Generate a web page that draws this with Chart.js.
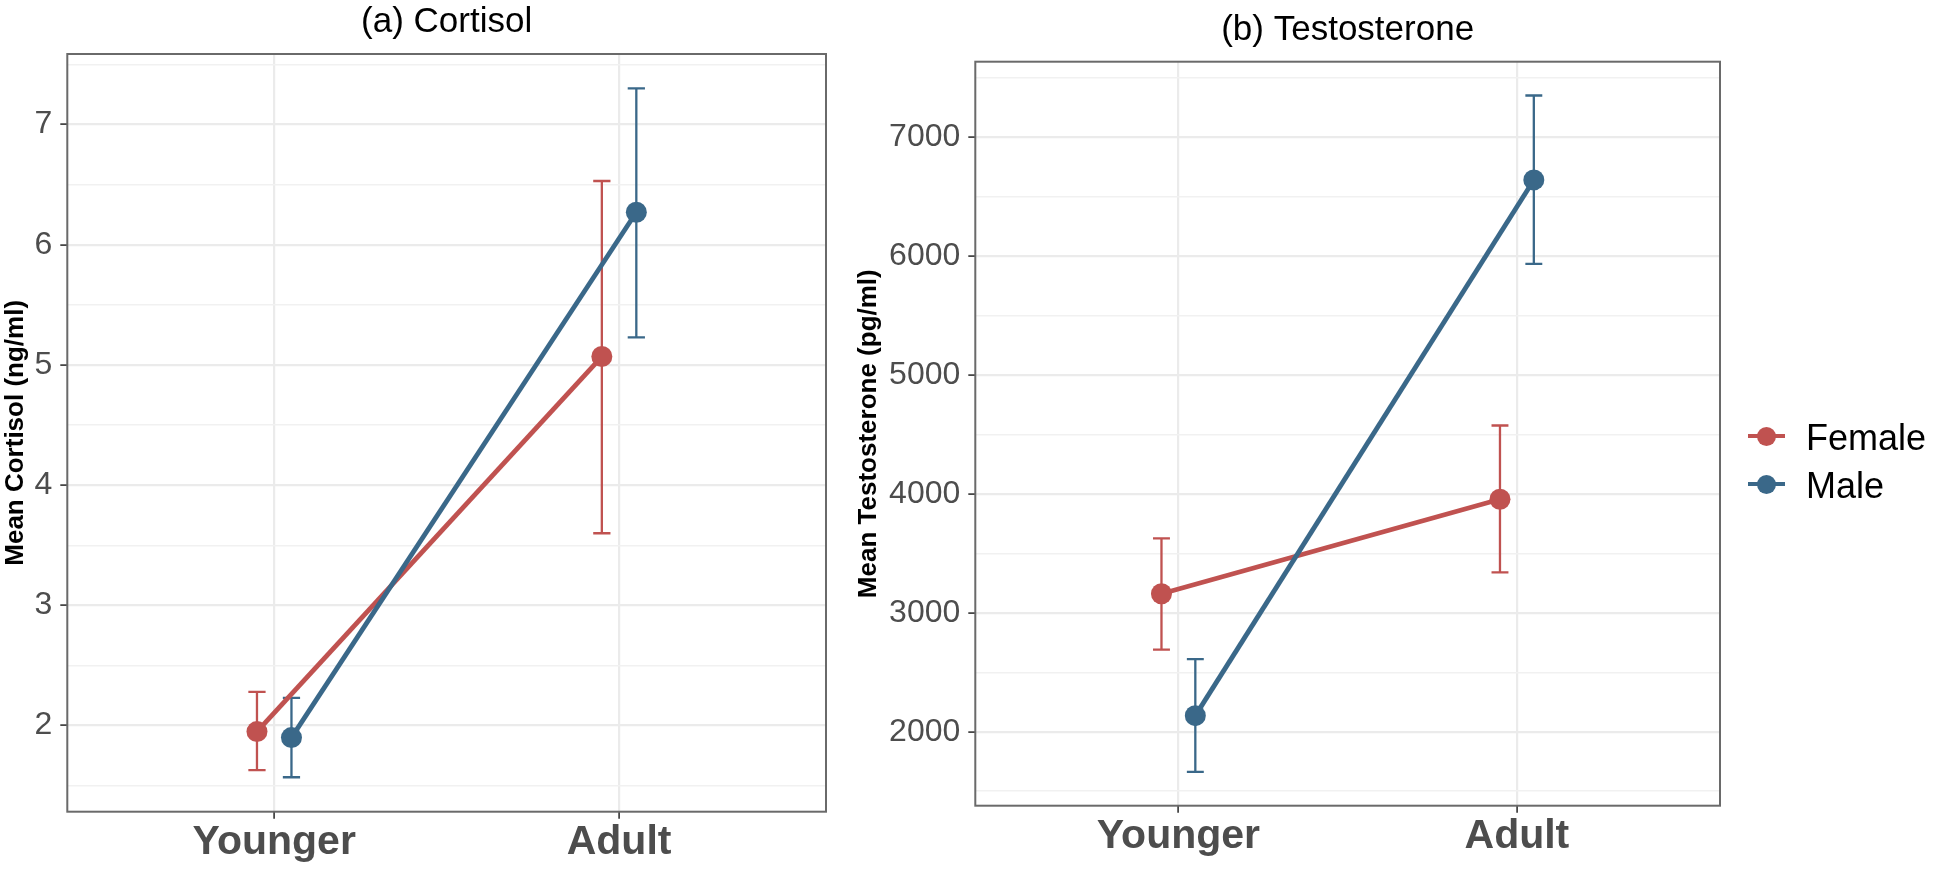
<!DOCTYPE html>
<html><head><meta charset="utf-8">
<script src="https://cdn.jsdelivr.net/npm/chart.js@4.4.1/dist/chart.umd.min.js"></script>
<style>
html,body{margin:0;padding:0;background:#fff;width:1934px;height:876px;overflow:hidden;}
#wa{position:absolute;left:0;top:0;width:840px;height:876px;}
#wb{position:absolute;left:840px;top:0;width:1094px;height:876px;}
.legtxt{position:absolute;font-family:'Liberation Sans',Arial,Helvetica,sans-serif;font-size:36px;line-height:36px;color:#000;white-space:nowrap;}
.legline{position:absolute;width:37px;height:4.5px;}
.legdot{position:absolute;width:19px;height:19px;border-radius:50%;}
</style></head><body>
<div id="wa"><canvas id="ca" width="840" height="876"></canvas></div>
<div id="wb"><canvas id="cb" width="1094" height="876"></canvas></div>
<div id="legend"></div>
<script>
// ---------- data ----------
const categories = ['Younger', 'Adult'];
const seriesNames = ['Female', 'Male'];
const panelTitles = ['(a) Cortisol', '(b) Testosterone'];
const yTitles = ['Mean Cortisol (ng/ml)', 'Mean Testosterone (pg/ml)'];

const cortisolFemale     = [1.95, 5.07];
const cortisolFemaleLow  = [1.63, 3.60];
const cortisolFemaleHigh = [2.28, 6.53];
const cortisolMale       = [1.90, 6.27];
const cortisolMaleLow    = [1.57, 5.23];
const cortisolMaleHigh   = [2.23, 7.30];

const testoFemale     = [3160, 3955];
const testoFemaleLow  = [2690, 3340];
const testoFemaleHigh = [3625, 4575];
const testoMale       = [2135, 6640];
const testoMaleLow    = [1662, 5935];
const testoMaleHigh   = [2610, 7350];

const cortisolTicks = [2, 3, 4, 5, 6, 7];
const cortisolMinorTicks = [1.5, 2.5, 3.5, 4.5, 5.5, 6.5, 7.5];
const testoTicks = [2000, 3000, 4000, 5000, 6000, 7000];
const testoMinorTicks = [1500, 2500, 3500, 4500, 5500, 6500, 7500];

// ---------- style ----------
const FONT = "'Liberation Sans', Arial, Helvetica, sans-serif";
const colors = ['#C05250', '#3A6889'];
const dodge = 0.05;
const capHalf = 0.025;

function rangeOf(lows, highs) {
  const all = lows.flat().concat(highs.flat());
  const mn = Math.min(...all), mx = Math.max(...all);
  const pad = (mx - mn) * 0.05;
  return [mn - pad, mx + pad];
}

const panelPlugin = {
  id: 'panelExtras',
  beforeDatasetsDraw(chart) {
    const {ctx, scales: {x, y}} = chart;
    chart.data.datasets.forEach((ds) => {
      ds.errLow.forEach((lo, j) => {
        const hi = ds.errHigh[j];
        const xv = ds.data[j].x;
        const px = x.getPixelForValue(xv);
        const pl = x.getPixelForValue(xv - capHalf);
        const pr = x.getPixelForValue(xv + capHalf);
        const yl = y.getPixelForValue(lo), yh = y.getPixelForValue(hi);
        ctx.save();
        ctx.strokeStyle = ds.borderColor;
        ctx.lineWidth = 2.3;
        ctx.beginPath();
        ctx.moveTo(px, yl); ctx.lineTo(px, yh);
        ctx.moveTo(pl, yl); ctx.lineTo(pr, yl);
        ctx.moveTo(pl, yh); ctx.lineTo(pr, yh);
        ctx.stroke();
        ctx.restore();
      });
    });
  },
  afterDraw(chart) {
    const {ctx, chartArea: a} = chart;
    ctx.save();
    ctx.strokeStyle = '#6A6A6A';
    ctx.lineWidth = 2;
    ctx.strokeRect(a.left, a.top, a.right - a.left, a.bottom - a.top);
    ctx.restore();
  }
};

function makePanel(canvasId, cfg) {
  const [ymin, ymax] = rangeOf([cfg.fLow, cfg.mLow], [cfg.fHigh, cfg.mHigh]);
  const majorSet = new Set(cfg.major);
  const mkData = (vals, off) => vals.map((v, i) => ({x: i + 1 + off, y: v}));
  const mkDs = (name, vals, lo, hi, off, col, order) => ({
    label: name, data: mkData(vals, off), errLow: lo, errHigh: hi,
    borderColor: col, backgroundColor: col, pointBackgroundColor: col, pointBorderColor: col,
    borderWidth: 4.8, pointRadius: 10.5, pointHoverRadius: 10.5, pointBorderWidth: 0,
    tension: 0, order: order
  });
  return new Chart(document.getElementById(canvasId), {
    type: 'line',
    data: {
      datasets: [
        mkDs(seriesNames[0], cfg.f, cfg.fLow, cfg.fHigh, -dodge, colors[0], 2),
        mkDs(seriesNames[1], cfg.m, cfg.mLow, cfg.mHigh, dodge, colors[1], 1)
      ]
    },
    options: {
      responsive: false, animation: false, events: [],
      layout: {padding: {left: 0, top: 0, right: cfg.padRight, bottom: 0}},
      plugins: {
        legend: {display: false}, tooltip: {enabled: false},
        title: {display: true, text: cfg.title, fullSize: false, color: '#000',
          font: {family: FONT, size: 35, weight: 'normal', lineHeight: 1.2},
          padding: {top: cfg.titleTop, bottom: cfg.titleBottom}}
      },
      scales: {
        x: {
          type: 'linear', min: 0.4, max: 2.6,
          afterBuildTicks: s => { s.ticks = categories.map((c, i) => ({value: i + 1})); },
          afterFit: s => { s.height = cfg.xHeight; },
          border: {display: false},
          grid: {color: '#EBEBEB', lineWidth: 2.2, tickLength: 7, tickColor: '#333333', tickWidth: 1.6},
          ticks: {autoSkip: false, maxRotation: 0, padding: 0, color: '#4D4D4D',
            font: {family: FONT, size: 41, weight: 'bold', lineHeight: 1.15},
            callback: v => categories[Math.round(v) - 1]}
        },
        y: {
          type: 'linear', min: ymin, max: ymax,
          afterBuildTicks: s => { s.ticks = cfg.major.concat(cfg.minor).sort((a, b) => a - b).map(v => ({value: v})); },
          afterFit: s => { s.width = cfg.yWidth; },
          border: {display: false},
          grid: {
            color: c => majorSet.has(c.tick && c.tick.value) ? '#EBEBEB' : '#F1F1F1',
            lineWidth: c => majorSet.has(c.tick && c.tick.value) ? 2.2 : 1.4,
            tickLength: 7,
            tickColor: c => majorSet.has(c.tick && c.tick.value) ? '#333333' : 'rgba(0,0,0,0)',
            tickWidth: 1.6
          },
          ticks: {autoSkip: false, padding: 8, color: '#4D4D4D',
            font: {family: FONT, size: 32, lineHeight: 1.2},
            callback: v => majorSet.has(v) ? String(v) : ''},
          title: {display: true, text: cfg.yTitle, color: '#000',
            font: {family: FONT, size: 26, weight: 'bold', lineHeight: 1.2},
            padding: {top: cfg.yTitleTop, bottom: 0}}
        }
      }
    },
    plugins: [panelPlugin]
  });
}

makePanel('ca', {
  title: panelTitles[0], yTitle: yTitles[0],
  f: cortisolFemale, fLow: cortisolFemaleLow, fHigh: cortisolFemaleHigh,
  m: cortisolMale, mLow: cortisolMaleLow, mHigh: cortisolMaleHigh,
  major: cortisolTicks, minor: cortisolMinorTicks,
  padRight: 840 - 826, yWidth: 67.3, xHeight: 876 - 811.7,
  titleTop: 1.5, titleBottom: 54 - 1.5 - 42, yTitleTop: 0.5
});
makePanel('cb', {
  title: panelTitles[1], yTitle: yTitles[1],
  f: testoFemale, fLow: testoFemaleLow, fHigh: testoFemaleHigh,
  m: testoMale, mLow: testoMaleLow, mHigh: testoMaleHigh,
  major: testoTicks, minor: testoMinorTicks,
  padRight: 1094 - 880, yWidth: 135.3, xHeight: 876 - 805.7,
  titleTop: 9.2, titleBottom: 61.7 - 9.2 - 42, yTitleTop: 13.4
});

// legend
const leg = document.getElementById('legend');
const legCenters = [436, 484];
seriesNames.forEach((name, i) => {
  const cy = legCenters[i];
  const line = document.createElement('div');
  line.className = 'legline';
  line.style.left = '1748px'; line.style.top = (cy - 2.25) + 'px'; line.style.background = colors[i];
  const dot = document.createElement('div');
  dot.className = 'legdot';
  dot.style.left = (1766 - 9.5) + 'px'; dot.style.top = (cy - 9.5) + 'px'; dot.style.background = colors[i];
  const txt = document.createElement('div');
  txt.className = 'legtxt';
  txt.style.left = '1806px'; txt.style.top = (cy + 14 - 30.5) + 'px';
  txt.textContent = name;
  leg.appendChild(line); leg.appendChild(dot); leg.appendChild(txt);
});
</script>
</body></html>
